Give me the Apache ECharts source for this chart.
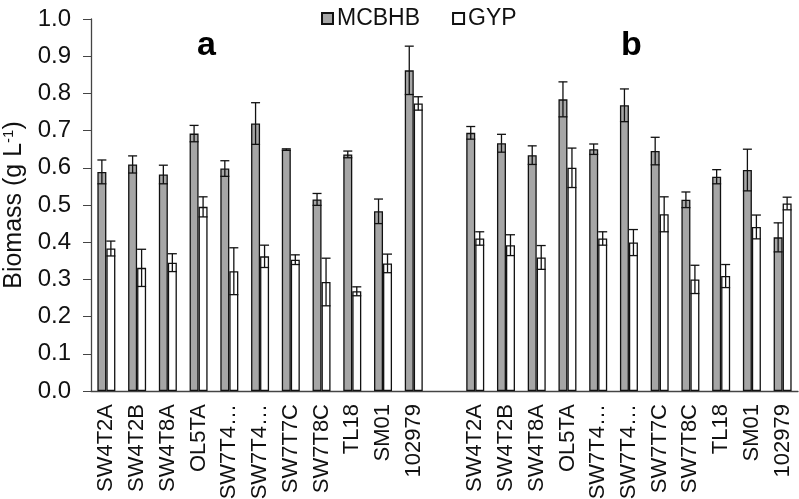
<!DOCTYPE html>
<html><head><meta charset="utf-8">
<script src="https://cdn.jsdelivr.net/npm/echarts@6/dist/echarts.min.js"></script>
<style>html,body{margin:0;padding:0;background:#fff}#c{width:799px;height:499px}</style>
</head><body><div id="c"></div>
<script>
const strains = ['SW4T2A','SW4T2B','SW4T8A','OL5TA','SW7T4…','SW7T4…','SW7T7C','SW7T8C','TL18','SM01','102979'];
const categories = strains.concat([''], strains);
// panel a
const mcbhbA = [0.589,0.609,0.582,0.692,0.598,0.719,0.649,0.515,0.636,0.483,0.862];
const mcbhbAErr = [0.032,0.023,0.025,0.022,0.021,0.056,0.002,0.016,0.009,0.033,0.065];
const gypA = [0.383,0.331,0.345,0.495,0.322,0.362,0.353,0.293,0.268,0.343,0.773];
const gypAErr = [0.020,0.050,0.024,0.027,0.063,0.030,0.013,0.064,0.012,0.025,0.018];
// panel b
const mcbhbB = [0.694,0.666,0.634,0.784,0.650,0.768,0.645,0.514,0.576,0.594,0.413];
const mcbhbBErr = [0.017,0.024,0.025,0.047,0.014,0.044,0.037,0.021,0.019,0.056,0.039];
const gypB = [0.410,0.392,0.359,0.600,0.410,0.399,0.475,0.300,0.309,0.441,0.504];
const gypBErr = [0.018,0.028,0.032,0.053,0.018,0.035,0.047,0.038,0.031,0.032,0.017];
const yTicks = [0,0.1,0.2,0.3,0.4,0.5,0.6,0.7,0.8,0.9,1.0];

const mcbhb = mcbhbA.concat(['-'], mcbhbB);
const mcbhbErr = mcbhbAErr.concat([null], mcbhbBErr);
const gyp = gypA.concat(['-'], gypB);
const gypErr = gypAErr.concat([null], gypBErr);

function errData(vals, errs){
  const out = [];
  vals.forEach((v,i)=>{ if (v !== '-' && errs[i] != null) out.push([i, v - errs[i], v + errs[i]]); });
  return out;
}
function errRender(offset){
  return function(params, api){
    const x = api.value(0);
    const lo = api.coord([x, api.value(1)]);
    const hi = api.coord([x, api.value(2)]);
    const cx = lo[0] + offset;
    const hw = 4.5;
    const st = {stroke:'#111', lineWidth:1.3};
    return {type:'group', children:[
      {type:'line', shape:{x1:cx,y1:lo[1],x2:cx,y2:hi[1]}, style:st},
      {type:'line', shape:{x1:cx-hw,y1:hi[1],x2:cx+hw,y2:hi[1]}, style:st},
      {type:'line', shape:{x1:cx-hw,y1:lo[1],x2:cx+hw,y2:lo[1]}, style:st}
    ]};
  };
}
const FONT = 'Liberation Sans, Arial, sans-serif';
const TXT = '#111';
const chart = echarts.init(document.getElementById('c'), null, {renderer:'canvas'});
chart.setOption({
  animation:false,
  textStyle:{fontFamily:FONT},
  title:[
    {text:'a', left:192, top:24, textStyle:{fontSize:34, fontWeight:'bold', color:'#000', fontFamily:FONT}},
    {text:'b', left:616, top:24, textStyle:{fontSize:34, fontWeight:'bold', color:'#000', fontFamily:FONT}}
  ],
  legend:{
    top:2, left:316, itemWidth:11, itemHeight:11, itemGap:32,
    icon:'rect',
    textStyle:{fontSize:23, color:TXT, fontFamily:FONT, padding:[0,0,0,-1]},
    data:['MCBHB','GYP']
  },
  grid:{left:91, right:1, top:19, bottom:108, containLabel:false, outerBoundsMode:'none'},
  xAxis:{
    type:'category', data:categories,
    axisLine:{lineStyle:{color:'#444', width:1.3}},
    axisTick:{alignWithLabel:true, interval:0, length:5, lineStyle:{color:'#444'}},
    axisLabel:{rotate:90, interval:0, fontSize:22, color:TXT, margin:13, fontFamily:FONT}
  },
  yAxis:{
    type:'value', min:0, max:1, interval:0.1,
    name:'{t|Biomass (g L}{s|-1}{t|)}',
    nameLocation:'middle', nameGap:61, nameRotate:90,
    nameTextStyle:{rich:{t:{fontSize:25, color:TXT, fontFamily:FONT}, s:{fontSize:15, color:TXT, verticalAlign:'top', padding:[0,0,10,0], fontFamily:FONT}}},
    axisLine:{show:true, lineStyle:{color:'#444', width:1.3}},
    axisTick:{show:true, length:8, lineStyle:{color:'#444'}},
    splitLine:{show:false},
    axisLabel:{fontSize:24, color:TXT, margin:20, fontFamily:FONT, formatter:v=>v.toFixed(1)}
  },
  series:[
    {name:'MCBHB', type:'bar', data:mcbhb, barWidth:9, barGap:'0%',
     itemStyle:{color:'#a6a6a6', borderColor:'#111', borderWidth:1.3}},
    {name:'GYP', type:'bar', data:gyp, barWidth:9, barGap:'0%',
     itemStyle:{color:'#ffffff', borderColor:'#111', borderWidth:1.3}},
    {type:'custom', data:errData(mcbhb, mcbhbErr), renderItem:errRender(-4.5), encode:{x:0,y:[1,2]}, z:5, silent:true},
    {type:'custom', data:errData(gyp, gypErr), renderItem:errRender(4.5), encode:{x:0,y:[1,2]}, z:5, silent:true}
  ]
});
</script></body></html>
